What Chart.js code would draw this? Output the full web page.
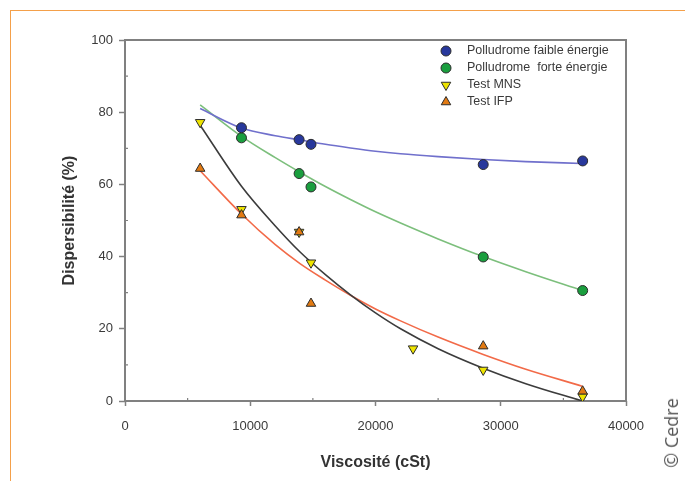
<!DOCTYPE html>
<html><head><meta charset="utf-8">
<script src="https://cdn.jsdelivr.net/npm/chart.js@4.4.1/dist/chart.umd.min.js"></script>
<style>
html,body{margin:0;padding:0;background:#fff;width:685px;height:481px;overflow:hidden;}
#frame{position:absolute;left:10px;top:10px;width:690px;height:490px;border-top:1px solid #f4a04a;border-left:1px solid #f4a04a;}
#wrap{position:absolute;left:0;top:0;width:685px;height:481px;}
#credit{position:absolute;left:671px;top:433px;transform:translate(-50%,-50%) rotate(-90deg);font-family:'Open Sans',sans-serif;font-size:18px;color:#555;white-space:nowrap;line-height:1;}
</style></head><body>
<div id="frame"></div>
<div id="wrap"><canvas id="c" width="685" height="481"></canvas></div>
<div id="credit">© Cedre</div>
<script>
// ---- data ----
const seriesNames = ['Polludrome faible énergie', 'Polludrome  forte énergie', 'Test MNS', 'Test IFP'];
const polluVisc = [9300, 13900, 14850, 28600, 36540];
const faibleVal = [75.7, 72.4, 71.1, 65.5, 66.5];
const forteVal  = [72.9, 63.0, 59.3, 39.9, 30.6];
const mnsVisc = [6000, 9300, 13900, 14850, 23000, 28600, 36540];
const mnsVal  = [77.2, 53.1, 46.8, 38.3, 14.5, 8.6, 1.2];
const ifpVisc = [6000, 9300, 13900, 14850, 28600, 36540];
const ifpVal  = [64.4, 51.5, 46.8, 27.0, 15.2, 2.7];
// fitted curves
const fitVisc   = [6000, 9300, 12000, 14000, 16000, 18000, 20000, 22000, 25000, 28600, 32000, 36500];
const fitFaible = [81.0, 75.6, 73.5, 72.3, 71.1, 70.1, 69.2, 68.5, 67.7, 66.9, 66.3, 65.8];
const fitForte  = [82.0, 73.3, 67.4, 63.3, 59.4, 55.8, 52.4, 49.3, 44.9, 40.0, 35.8, 30.6];
const fitMns    = [76.4, 59.5, 48.5, 41.2, 35.0, 29.4, 24.4, 20.0, 14.5, 9.1, 4.8, 0.0];
const fitIfp    = [63.8, 51.8, 43.3, 38.0, 33.5, 29.3, 25.5, 22.2, 17.7, 12.9, 8.8, 4.1];
const xTickValues = [0, 10000, 20000, 30000, 40000];
const yTickValues = [0, 20, 40, 60, 80, 100];
const xMinorValues = [5000, 15000, 25000, 35000];
const yMinorValues = [10, 30, 50, 70, 90];
const xTitle = 'Viscosité (cSt)';
const yTitle = 'Dispersibilité (%)';

const pts = (xs, ys) => xs.map((x, i) => ({x: x, y: ys[i]}));
const AXIS = '#808080';
const TEXT = '#3a3a3a';
const FONT = "'Liberation Sans', Arial, sans-serif";

function fitDs(vals, color) {
  return {data: pts(fitVisc, vals), showLine: true, pointRadius: 0, pointHoverRadius: 0,
    borderColor: color, borderWidth: 1.6, cubicInterpolationMode: 'monotone', fill: false, order: 2};
}
function markDs(label, xs, ys, fill, style, rot, r, ord) {
  return {label: label, data: pts(xs, ys), showLine: false, backgroundColor: fill, borderColor: '#2c2c2c',
    borderWidth: 1, pointStyle: style, rotation: rot, pointRadius: r, pointHoverRadius: r, order: ord};
}

const marks = [
  markDs(seriesNames[0], polluVisc, faibleVal, '#28389c', 'circle', 0, 5, 0),
  markDs(seriesNames[1], polluVisc, forteVal, '#1a9e3e', 'circle', 0, 5, 0),
  markDs(seriesNames[2], mnsVisc, mnsVal, '#eee400', 'triangle', 180, 5.5, 1),
  markDs(seriesNames[3], ifpVisc, ifpVal, '#e27a12', 'triangle', 0, 5.5, 0)
];

const framePlugin = {
  id: 'frame',
  beforeDatasetsDraw(chart) {
    const {ctx, chartArea: a, scales} = chart;
    ctx.save();
    ctx.strokeStyle = AXIS; ctx.lineWidth = 2;
    ctx.strokeRect(a.left, a.top, a.right - a.left, a.bottom - a.top);
    ctx.lineWidth = 1.2;
    ctx.beginPath();
    xMinorValues.forEach(v => { const p = scales.x.getPixelForValue(v); ctx.moveTo(p, a.bottom); ctx.lineTo(p, a.bottom - 3); });
    yMinorValues.forEach(v => { const p = scales.y.getPixelForValue(v); ctx.moveTo(a.left, p); ctx.lineTo(a.left + 3, p); });
    ctx.stroke();
    ctx.restore();
  }
};
const legendPlugin = {
  id: 'innerLegend',
  afterDraw(chart) {
    const {ctx, chartArea: a} = chart;
    ctx.save();
    ctx.font = '12.5px ' + FONT;
    ctx.textBaseline = 'middle';
    marks.forEach((d, i) => {
      const y = a.top + 11 + i * 17;
      const mx = a.right - 180;
      ctx.fillStyle = d.backgroundColor; ctx.strokeStyle = d.borderColor; ctx.lineWidth = 1;
      Chart.helpers.drawPoint(ctx, {pointStyle: d.pointStyle, rotation: d.rotation, radius: d.pointRadius, borderWidth: 1}, mx, y);
      ctx.fillStyle = TEXT;
      ctx.fillText(d.label, a.right - 159, y);
    });
    ctx.restore();
  }
};

new Chart(document.getElementById('c'), {
  type: 'scatter',
  data: {datasets: [
    ...marks,
    fitDs(fitFaible, '#7070cc'),
    fitDs(fitForte, '#7cbf7c'),
    fitDs(fitMns, '#3c3c3c'),
    fitDs(fitIfp, '#f26a48')
  ]},
  options: {
    responsive: false, animation: false, events: [],
    layout: {padding: {left: 0, top: 40, right: 59, bottom: 0}},
    plugins: {legend: {display: false}, tooltip: {enabled: false}},
    scales: {
      x: {
        type: 'linear', min: 0, max: 40000,
        afterBuildTicks: s => { s.ticks = xTickValues.map(v => ({value: v})); },
        afterFit: s => { s.height = 80; s.paddingLeft = 0; s.paddingRight = 0; },
        border: {display: false},
        grid: {drawOnChartArea: false, drawTicks: true, tickLength: 5, tickColor: AXIS, tickWidth: 1.5, color: AXIS},
        ticks: {color: TEXT, font: {family: FONT, size: 13}, padding: 13, maxRotation: 0, callback: v => String(v)},
        title: {display: true, text: xTitle, color: '#333', font: {family: FONT, size: 16, weight: 'bold'}, padding: {top: 0, bottom: 9}}
      },
      y: {
        type: 'linear', min: 0, max: 100,
        afterBuildTicks: s => { s.ticks = yTickValues.map(v => ({value: v})); },
        afterFit: s => { s.width = 125; s.paddingTop = 0; s.paddingBottom = 0; },
        border: {display: false},
        grid: {drawOnChartArea: false, drawTicks: true, tickLength: 6, tickColor: AXIS, tickWidth: 1.5, color: AXIS},
        ticks: {color: TEXT, font: {family: FONT, size: 13}, padding: 6, callback: v => String(v)},
        title: {display: true, text: yTitle, color: '#333', font: {family: FONT, size: 16, weight: 'bold'}, padding: {top: 60, bottom: 0}}
      }
    }
  },
  plugins: [framePlugin, legendPlugin]
});
</script>
</body></html>
